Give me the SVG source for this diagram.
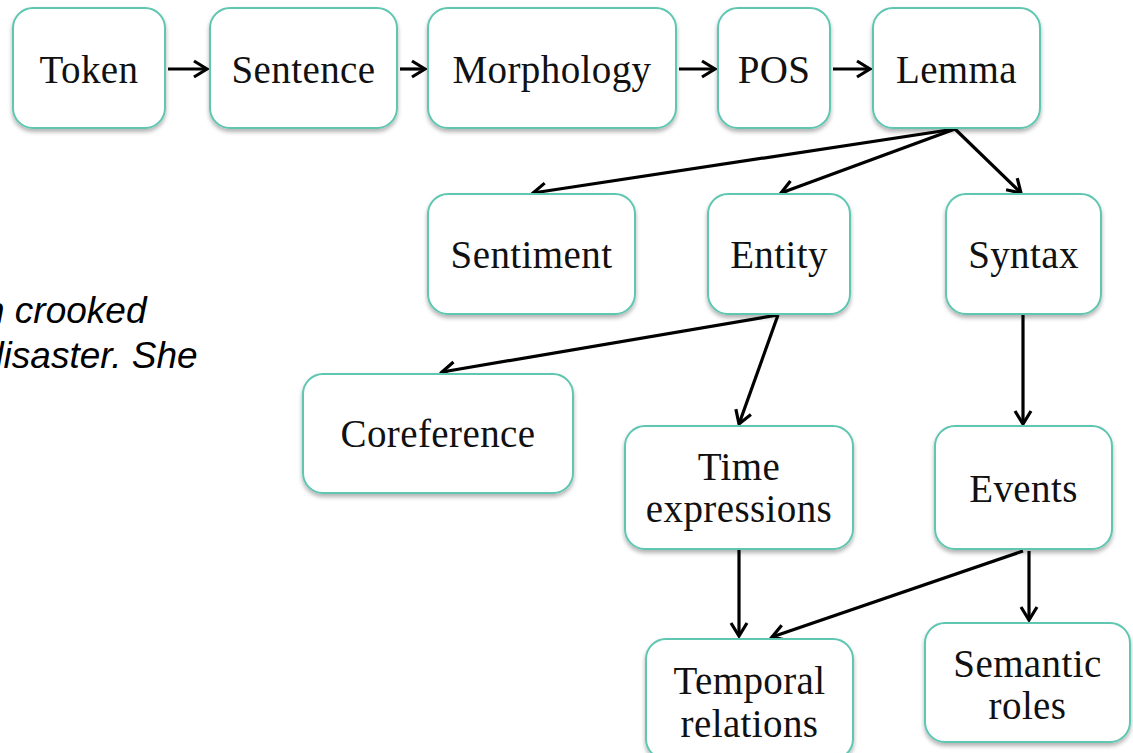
<svg xmlns="http://www.w3.org/2000/svg" width="1133" height="753" viewBox="0 0 1133 753">
<defs>
<filter id="sh" x="-10%" y="-10%" width="120%" height="130%">
<feDropShadow dx="0" dy="3" stdDeviation="2" flood-color="#000" flood-opacity="0.3"/>
</filter>
<marker id="ah" markerUnits="userSpaceOnUse" viewBox="-18 -12 21 24" markerWidth="21" markerHeight="24" refX="0" refY="0" orient="auto">
<path d="M-13,-8 L0,0 L-13,8" fill="none" stroke="#000" stroke-width="3.2" stroke-linejoin="miter"/>
</marker>
<style>
.box{fill:#fff;stroke:#5ec6b2;stroke-width:2;filter:url(#sh)}
.lbl{font-family:"Liberation Serif","Times New Roman",serif;font-size:39px;fill:#111;text-anchor:middle;letter-spacing:0.4px}
.it{font-family:"Liberation Sans",Arial,sans-serif;font-style:italic;font-size:37px;fill:#000}
.edge{stroke:#000;stroke-width:3.2;fill:none;marker-end:url(#ah)}
</style>
</defs>
<rect width="1133" height="753" fill="#fff"/>
<text class="it" x="-16" y="323">n crooked</text>
<text class="it" x="-17" y="368">disaster. She</text>
<g id="connectors">
<line class="edge" x1="168" y1="69" x2="207" y2="69"/>
<line class="edge" x1="400" y1="69" x2="425" y2="69"/>
<line class="edge" x1="679" y1="69" x2="715" y2="69"/>
<line class="edge" x1="833" y1="69" x2="870" y2="69"/>
<line class="edge" x1="955" y1="129" x2="533" y2="193"/>
<line class="edge" x1="955" y1="129" x2="781" y2="193"/>
<line class="edge" x1="955" y1="129" x2="1021" y2="193"/>
<line class="edge" x1="778" y1="315" x2="442" y2="372"/>
<line class="edge" x1="778" y1="315" x2="739" y2="424"/>
<line class="edge" x1="1023" y1="315" x2="1023" y2="424"/>
<line class="edge" x1="739" y1="550" x2="739" y2="636"/>
<line class="edge" x1="1023" y1="551" x2="772" y2="637"/>
<line class="edge" x1="1029" y1="551" x2="1029" y2="620"/>
</g>
<g id="token"><rect class="box" x="13" y="8" width="152" height="120" rx="20"/><text class="lbl" x="89" y="83">Token</text></g>
<g id="sentence"><rect class="box" x="210" y="8" width="187" height="120" rx="20"/><text class="lbl" x="303.5" y="83">Sentence</text></g>
<g id="morphology"><rect class="box" x="428" y="8" width="248" height="120" rx="20"/><text class="lbl" x="552" y="83">Morphology</text></g>
<g id="pos"><rect class="box" x="718" y="8" width="112" height="120" rx="20"/><text class="lbl" x="774" y="83">POS</text></g>
<g id="lemma"><rect class="box" x="873" y="8" width="167" height="120" rx="20"/><text class="lbl" x="956.5" y="83">Lemma</text></g>
<g id="sentiment"><rect class="box" x="428" y="194" width="207" height="120" rx="20"/><text class="lbl" x="531.5" y="268">Sentiment</text></g>
<g id="entity"><rect class="box" x="708" y="194" width="142" height="120" rx="20"/><text class="lbl" x="779" y="268">Entity</text></g>
<g id="syntax"><rect class="box" x="946" y="194" width="155" height="120" rx="20"/><text class="lbl" x="1023.5" y="268">Syntax</text></g>
<g id="coreference"><rect class="box" x="303" y="374" width="270" height="119" rx="20"/><text class="lbl" x="438" y="447">Coreference</text></g>
<g id="time-expressions"><rect class="box" x="625" y="426" width="228" height="123" rx="20"/><text class="lbl" x="739" y="480">Time</text><text class="lbl" x="739" y="522">expressions</text></g>
<g id="events"><rect class="box" x="935" y="426" width="177" height="123" rx="20"/><text class="lbl" x="1023.5" y="502">Events</text></g>
<g id="temporal-relations"><rect class="box" x="646" y="639" width="207" height="120" rx="20"/><text class="lbl" x="749.5" y="694">Temporal</text><text class="lbl" x="749.5" y="737">relations</text></g>
<g id="semantic-roles"><rect class="box" x="925" y="623" width="205" height="119" rx="20"/><text class="lbl" x="1027.5" y="677">Semantic</text><text class="lbl" x="1027.5" y="719">roles</text></g>
</svg>
